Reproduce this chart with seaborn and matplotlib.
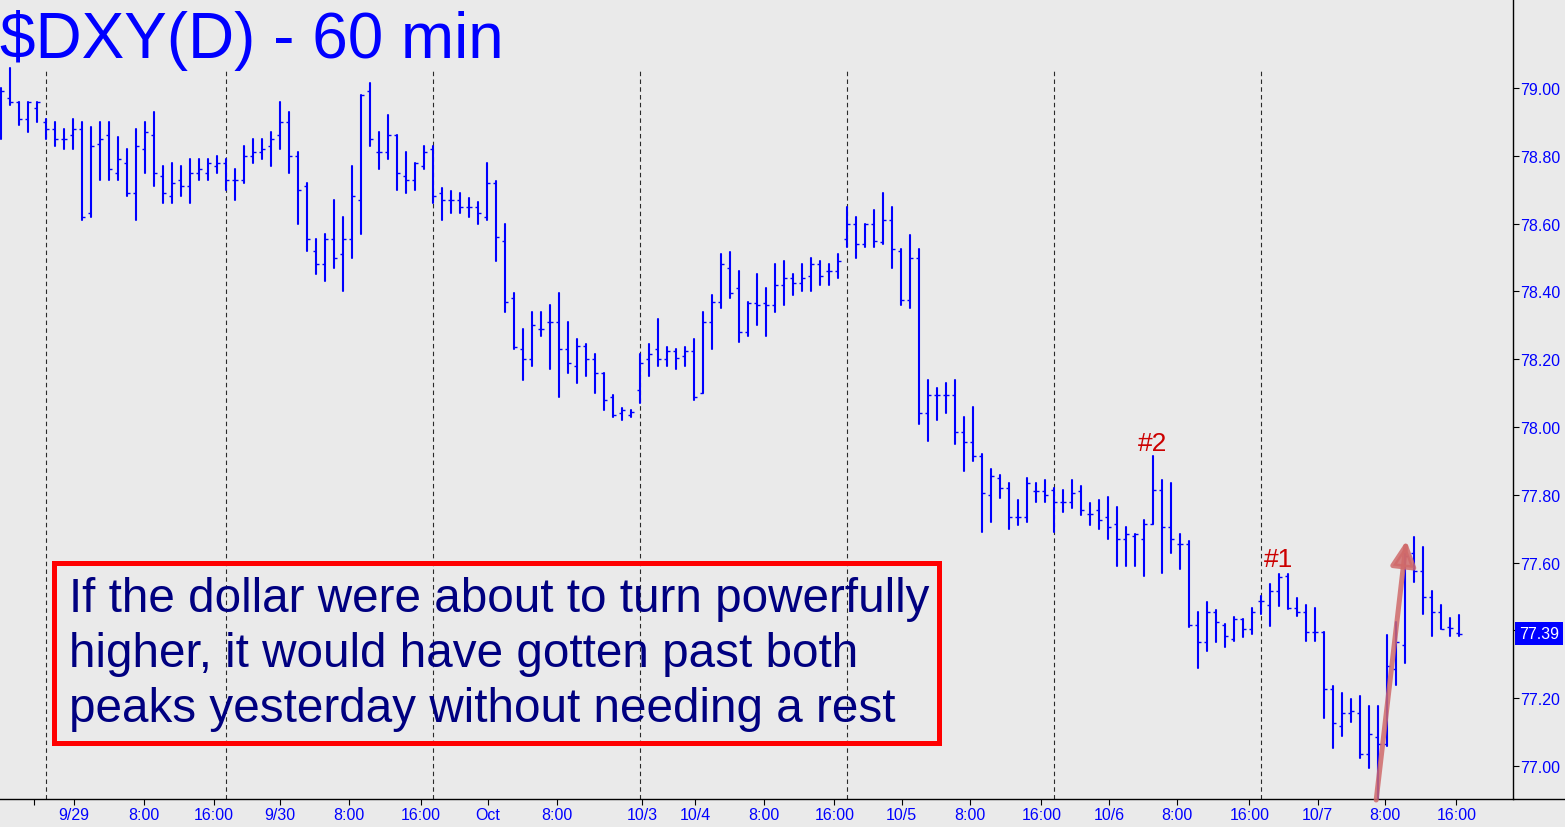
import matplotlib
matplotlib.use("Agg")
import matplotlib.pyplot as plt
from matplotlib.lines import Line2D
from matplotlib.patches import Rectangle
from matplotlib.transforms import blended_transform_factory
import numpy as np
import pandas as pd
import seaborn as sns

# hourly bars (one entry per bar, left to right)
opens = [78.87, 78.97, 78.96, 78.91, 78.94, 78.90, 78.88, 78.85, 78.86, 78.88,
         78.63, 78.835, 78.86, 78.75, 78.78, 78.69, 78.82, 78.86, 78.74, 78.68,
         78.73, 78.71, 78.75, 78.75, 78.77, 78.78, 78.73, 78.73, 78.80, 78.81,
         78.83, 78.86, 78.90, 78.80, 78.71, 78.52, 78.48, 78.555, 78.51, 78.555,
         78.67, 78.99, 78.81, 78.81, 78.86, 78.74, 78.73, 78.77, 78.82, 78.69,
         78.67, 78.67, 78.65, 78.65, 78.62, 78.72, 78.55, 78.38, 78.23, 78.20,
         78.29, 78.31, 78.31, 78.23, 78.18, 78.24, 78.20, 78.16, 78.09, 78.04,
         78.035, 78.11, 78.20, 78.23, 78.20, 78.225, 78.21, 78.225, 78.10, 78.31,
         78.37, 78.47, 78.41, 78.28, 78.365, 78.365, 78.36, 78.42, 78.44, 78.425,
         78.445, 78.48, 78.46, 78.46, 78.555, 78.60, 78.54, 78.60, 78.545, 78.61,
         78.52, 78.375, 78.50, 78.04, 78.095, 78.095, 78.095, 77.985, 77.955, 77.915,
         77.80, 77.85, 77.82, 77.735, 77.735, 77.81, 77.81, 77.815, 77.78, 77.78,
         77.81, 77.745, 77.755, 77.735, 77.715, 77.67, 77.68, 77.67, 77.715, 77.815,
         77.705, 77.655, 77.655, 77.415, 77.365, 77.455, 77.415, 77.375, 77.435, 77.405,
         77.488, 77.475, 77.517, 77.56, 77.465, 77.455, 77.396, 77.396, 77.227, 77.117,
         77.157, 77.158, 77.036, 77.085, 77.065, 77.286, 77.357, 77.63, 77.576, 77.498,
         77.455, 77.409, 77.394]
highs = [79.00, 79.06, 78.96, 78.96, 78.96, 78.91, 78.90, 78.88, 78.91, 78.90,
         78.885, 78.90, 78.90, 78.855, 78.82, 78.88, 78.90, 78.93, 78.77, 78.78,
         78.77, 78.79, 78.79, 78.79, 78.80, 78.79, 78.76, 78.83, 78.85, 78.85,
         78.87, 78.96, 78.93, 78.81, 78.72, 78.555, 78.57, 78.67, 78.62, 78.77,
         78.98, 79.015, 78.87, 78.92, 78.86, 78.81, 78.78, 78.83, 78.83, 78.705,
         78.695, 78.69, 78.675, 78.665, 78.78, 78.725, 78.60, 78.395, 78.29, 78.34,
         78.34, 78.36, 78.395, 78.31, 78.26, 78.245, 78.215, 78.16, 78.095, 78.056,
         78.05, 78.215, 78.245, 78.32, 78.235, 78.23, 78.235, 78.26, 78.34, 78.39,
         78.51, 78.515, 78.46, 78.37, 78.45, 78.41, 78.48, 78.49, 78.45, 78.48,
         78.50, 78.49, 78.48, 78.51, 78.65, 78.62, 78.60, 78.64, 78.69, 78.65,
         78.525, 78.565, 78.525, 78.14, 78.115, 78.13, 78.14, 78.03, 78.06, 77.92,
         77.875, 77.86, 77.835, 77.785, 77.85, 77.835, 77.845, 77.82, 77.815, 77.845,
         77.825, 77.775, 77.785, 77.795, 77.765, 77.705, 77.685, 77.725, 77.915, 77.845,
         77.835, 77.685, 77.665, 77.455, 77.485, 77.46, 77.42, 77.44, 77.435, 77.465,
         77.502, 77.537, 77.567, 77.567, 77.495, 77.475, 77.465, 77.396, 77.235, 77.216,
         77.198, 77.206, 77.176, 77.176, 77.386, 77.424, 77.625, 77.675, 77.645, 77.517,
         77.475, 77.436, 77.445]
lows = [78.85, 78.95, 78.89, 78.87, 78.90, 78.85, 78.83, 78.82, 78.82, 78.61,
        78.62, 78.73, 78.73, 78.73, 78.68, 78.61, 78.75, 78.71, 78.66, 78.66,
        78.68, 78.66, 78.73, 78.73, 78.75, 78.70, 78.67, 78.72, 78.78, 78.79,
        78.77, 78.82, 78.75, 78.60, 78.52, 78.45, 78.43, 78.47, 78.40, 78.50,
        78.57, 78.83, 78.76, 78.79, 78.70, 78.69, 78.70, 78.76, 78.66, 78.61,
        78.63, 78.63, 78.62, 78.60, 78.61, 78.49, 78.34, 78.23, 78.14, 78.18,
        78.27, 78.17, 78.09, 78.16, 78.13, 78.15, 78.10, 78.05, 78.03, 78.02,
        78.03, 78.07, 78.15, 78.18, 78.18, 78.17, 78.18, 78.08, 78.10, 78.23,
        78.35, 78.38, 78.25, 78.27, 78.30, 78.27, 78.34, 78.36, 78.39, 78.40,
        78.40, 78.42, 78.42, 78.44, 78.53, 78.50, 78.53, 78.53, 78.54, 78.47,
        78.36, 78.35, 78.01, 77.96, 78.02, 78.04, 77.95, 77.87, 77.90, 77.69,
        77.72, 77.79, 77.70, 77.71, 77.72, 77.78, 77.78, 77.69, 77.75, 77.76,
        77.74, 77.71, 77.70, 77.67, 77.59, 77.59, 77.59, 77.56, 77.715, 77.57,
        77.63, 77.58, 77.41, 77.29, 77.34, 77.365, 77.35, 77.37, 77.38, 77.39,
        77.45, 77.412, 77.471, 77.462, 77.442, 77.37, 77.37, 77.141, 77.052, 77.09,
        77.131, 77.023, 76.993, 76.90, 77.06, 77.24, 77.303, 77.542, 77.45, 77.383,
        77.404, 77.383, 77.383]
closes = [78.99, 78.96, 78.91, 78.96, 78.96, 78.88, 78.85, 78.85, 78.88, 78.62,
          78.83, 78.85, 78.76, 78.79, 78.69, 78.83, 78.87, 78.75, 78.69, 78.72,
          78.71, 78.75, 78.76, 78.78, 78.78, 78.73, 78.73, 78.80, 78.81, 78.82,
          78.85, 78.90, 78.80, 78.70, 78.555, 78.48, 78.555, 78.50, 78.555, 78.68,
          78.98, 78.85, 78.81, 78.86, 78.75, 78.73, 78.78, 78.81, 78.68, 78.67,
          78.67, 78.65, 78.65, 78.63, 78.72, 78.56, 78.37, 78.235, 78.20, 78.30,
          78.29, 78.31, 78.23, 78.19, 78.24, 78.20, 78.16, 78.08, 78.035, 78.05,
          78.045, 78.19, 78.215, 78.20, 78.225, 78.205, 78.225, 78.09, 78.31, 78.37,
          78.48, 78.395, 78.28, 78.365, 78.36, 78.36, 78.42, 78.44, 78.425, 78.44,
          78.48, 78.445, 78.46, 78.49, 78.60, 78.54, 78.60, 78.55, 78.61, 78.525,
          78.375, 78.50, 78.04, 78.095, 78.095, 78.095, 77.985, 77.955, 77.915, 77.805,
          77.855, 77.82, 77.735, 77.735, 77.835, 77.81, 77.80, 77.78, 77.78, 77.805,
          77.755, 77.745, 77.725, 77.705, 77.67, 77.685, 77.685, 77.715, 77.815, 77.705,
          77.67, 77.655, 77.415, 77.365, 77.455, 77.425, 77.385, 77.435, 77.405, 77.455,
          77.488, 77.517, 77.557, 77.465, 77.455, 77.396, 77.396, 77.227, 77.127, 77.157,
          77.163, 77.036, 77.095, 77.065, 77.296, 77.367, 77.62, 77.576, 77.498, 77.455,
          77.404, 77.406, 77.39]

last_price = 77.39
price_ticks = [77.00, 77.20, 77.40, 77.60, 77.80, 78.00, 78.20, 78.40, 78.60, 78.80, 79.00]
time_labels = ['', '9/29', '8:00', '16:00', '9/30', '8:00', '16:00', 'Oct', '8:00',
               '10/3', '10/4', '8:00', '16:00', '10/5', '8:00', '16:00', '10/6',
               '8:00', '16:00', '10/7', '8:00', '16:00']
session_starts = [5, 25, 48, 71, 94, 117, 140]
peak_names = ['#2', '#1']
peak_bars = [128, 142]
note_lines = ['If the dollar were about to turn powerfully',
              'higher, it would have gotten past both',
              'peaks yesterday without needing a rest']

# layout (pixels of the 1565x828 picture, bar units on x)
W, H = 1565, 828
BG = '#eaeaea'
BLUE = '#0000ff'
time_tick_at = [3.7, 8.14, 15.92, 23.7, 31.03, 38.7, 46.7, 54.1, 61.8, 71.26, 77.14,
                84.81, 92.6, 100.1, 107.7, 115.6, 123.15, 130.7, 138.7, 146.3, 153.8, 161.7]
peak_offsets = [4.5, 6.0]
arrow_tail = (152.8, 76.90)
arrow_tip = (156.15, 77.665)

sns.set_theme(style='white', rc={'axes.facecolor': BG, 'figure.facecolor': BG})
plt.rcParams['font.family'] = ['Liberation Sans', 'DejaVu Sans']

fig = plt.figure(figsize=(W / 100, H / 100), dpi=100)
ax = fig.add_axes([0, 28 / H, 1513 / W, 800 / H])

# high-low ranges, one line per bar
n = len(opens)
idx = np.arange(n)
ranges = pd.DataFrame({
    'bar': np.repeat(idx, 2),
    'price': np.column_stack([highs, lows]).ravel(),
})
ranges['x'] = ranges['bar'].astype(float)
sns.lineplot(data=ranges, x='x', y='price', units='bar', estimator=None, sort=False,
             color=BLUE, lw=1.5, legend=False, ax=ax)

# open tick on the left, close tick on the right
ax.hlines(opens, idx - 0.35, idx, color=BLUE, lw=1.0)
ax.hlines(closes, idx, idx + 0.35, color=BLUE, lw=1.0)

for b in session_starts:
    ax.axvline(b, ymin=0, ymax=0.9125, color='#2a2a2a', lw=0.8, ls=(0, (4, 3)), zorder=0.5)

ax.set_xlim(-0.08, 168.0)
ax.set_ylim(76.903, 79.2625)
ax.set_xlabel('')
ax.set_ylabel('')
ax.grid(False)

ax.yaxis.tick_right()
ax.set_yticks(price_ticks)
ax.set_yticklabels([f'{v:.2f}' for v in price_ticks])
ax.tick_params(axis='y', right=True, left=False, direction='out', length=4.3, width=0.8,
               color='black', pad=1.0, labelsize=11.5, labelcolor=BLUE)
ax.set_xticks(time_tick_at)
ax.set_xticklabels(time_labels)
ax.tick_params(axis='x', bottom=True, direction='out', length=4.3, width=0.8,
               color='black', pad=1.5, labelsize=11.5, labelcolor=BLUE)

for s in ['top', 'left']:
    ax.spines[s].set_visible(False)
for s in ['bottom', 'right']:
    ax.spines[s].set_visible(True)
    ax.spines[s].set_color('black')
    ax.spines[s].set_linewidth(1)
fig.add_artist(Line2D([1513 / W, 1], [28 / H, 28 / H], transform=fig.transFigure,
                      color='black', lw=1))

# last price flag on the price scale
trans = blended_transform_factory(ax.transAxes, ax.transData)
ax.text(1519 / 1513, last_price, f'{last_price:.2f}', transform=trans, ha='left', va='center',
        color='white', fontsize=11.5, zorder=10, clip_on=False,
        bbox=dict(boxstyle='square,pad=0.25', fc=BLUE, ec='none'))

for name, b, off in zip(peak_names, peak_bars, peak_offsets):
    ax.annotate(name, xy=(b, highs[b]), xytext=(0, off), textcoords='offset points',
                ha='center', va='baseline', color='#cc0000', fontsize=19)

ax.annotate('', xy=arrow_tip, xytext=arrow_tail, annotation_clip=False,
            arrowprops=dict(arrowstyle='-|>,head_length=0.75,head_width=0.38',
                            mutation_scale=20, lw=3.6, color='#d06a6a', alpha=0.85,
                            shrinkA=0, shrinkB=0))

fig.text(0, 1 - 58 / H, '$DXY(D) - 60 min', fontsize=46, color=BLUE,
         ha='left', va='baseline', parse_math=False)

fig.add_artist(Rectangle((53.5 / W, (H - 743.5) / H), (939.5 - 53.5) / W, (743.5 - 563.5) / H,
                         transform=fig.transFigure, fill=False, ec='#ff0000', lw=3.6))
for k, line in enumerate(note_lines):
    fig.text(69 / W, 1 - (611.7 + 55 * k) / H, line, fontsize=34.3, color='#000080',
             ha='left', va='baseline')

fig.savefig('out.png', dpi=100, facecolor=BG)
